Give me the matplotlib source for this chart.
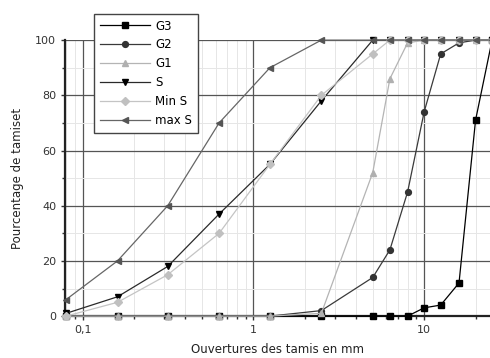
import matplotlib
matplotlib.use("Agg")
import matplotlib.pyplot as plt
from matplotlib.ticker import FixedLocator, FixedFormatter, LogLocator, NullFormatter, MultipleLocator

sieves = [0.08, 0.16, 0.315, 0.63, 1.25, 2.5, 5, 6.3, 8, 10, 12.5, 16, 20, 25]
g3 = [0, 0, 0, 0, 0, 0, 0, 0, 0, 3, 4, 12, 71, 100]
g2 = [0, 0, 0, 0, 0, 2, 14, 24, 45, 74, 95, 99, 100, 100]
g1 = [0, 0, 0, 0, 0, 1, 52, 86, 99, 100, 100, 100, 100, 100]
s = [1, 7, 18, 37, 55, 78, 100, 100, 100, 100, 100, 100, 100, 100]
min_s = [0, 5, 15, 30, 55, 80, 95, 100, 100, 100, 100, 100, 100, 100]
max_s = [6, 20, 40, 70, 90, 100, 100, 100, 100, 100, 100, 100, 100, 100]

labels = ["G3", "G2", "G1", "S", "Min S", "max S"]
xticks = [0.1, 1, 10]
xticklabels = ["0,1", "1", "10"]
yticks = [0, 20, 40, 60, 80, 100]

fig = plt.figure(figsize=(4.9, 3.58), dpi=100)
ax = fig.add_axes([0.133, 0.117, 0.867, 0.771])

styles = [
    (g3, dict(color="#000000", marker="s", mfc="#000000", mec="#000000")),
    (g2, dict(color="#3a3a3a", marker="o", mfc="#333333", mec="#333333")),
    (g1, dict(color="#b4b4b4", marker="^", mfc="#b0b0b0", mec="#b0b0b0")),
    (s, dict(color="#2a2a2a", marker="v", mfc="#000000", mec="#000000")),
    (min_s, dict(color="#c4c4c4", marker="D", mfc="#c0c0c0", mec="#c0c0c0")),
    (max_s, dict(color="#666666", marker="<", mfc="#555555", mec="#555555")),
]
handles = []
for (vals, st), lab in zip(styles, labels):
    ms = 4.2 if st["marker"] != "D" else 3.6
    h, = ax.plot(sieves, vals, lw=0.9, ms=ms, label=lab, clip_on=False, zorder=3, **st)
    handles.append(h)

ax.set_xscale("log")
ax.set_xlim(0.079, 24.3)
ax.set_ylim(0, 100)

ax.xaxis.set_major_locator(FixedLocator(xticks))
ax.xaxis.set_major_formatter(FixedFormatter(xticklabels))
ax.xaxis.set_minor_locator(LogLocator(base=10, subs=range(2, 10)))
ax.xaxis.set_minor_formatter(NullFormatter())
ax.yaxis.set_major_locator(FixedLocator(yticks))
ax.yaxis.set_minor_locator(MultipleLocator(10))

ax.grid(which="major", color="#555555", lw=0.9, zorder=1)
ax.grid(which="minor", color="#e6e6e6", lw=0.7, zorder=0)
ax.set_axisbelow(True)

for sp in ["top", "right"]:
    ax.spines[sp].set_visible(False)
ax.spines["left"].set_linewidth(1.6)
ax.spines["bottom"].set_linewidth(1.6)
ax.spines["left"].set_color("#222222")
ax.spines["bottom"].set_color("#222222")

ax.tick_params(axis="both", which="major", direction="out", length=3, width=1, labelsize=8, colors="#333333")
ax.tick_params(axis="both", which="minor", direction="out", length=2, width=1, colors="#333333")

ax.set_xlabel("Ouvertures des tamis en mm", fontsize=8.5, color="#222222", labelpad=6)
ax.set_ylabel("Pourcentage de tamiset", fontsize=8.5, color="#222222", labelpad=8)

leg = fig.legend(handles=handles, loc="upper left", bbox_to_anchor=(0.192, 0.962),
                 borderaxespad=0, fontsize=8.5, handlelength=4.2, handletextpad=0.5,
                 labelspacing=0.5, borderpad=0.5, fancybox=False, framealpha=1,
                 edgecolor="#444444")
leg.get_frame().set_linewidth(1.0)
leg.set_zorder(10)

fig.savefig("out.png", dpi=100)
